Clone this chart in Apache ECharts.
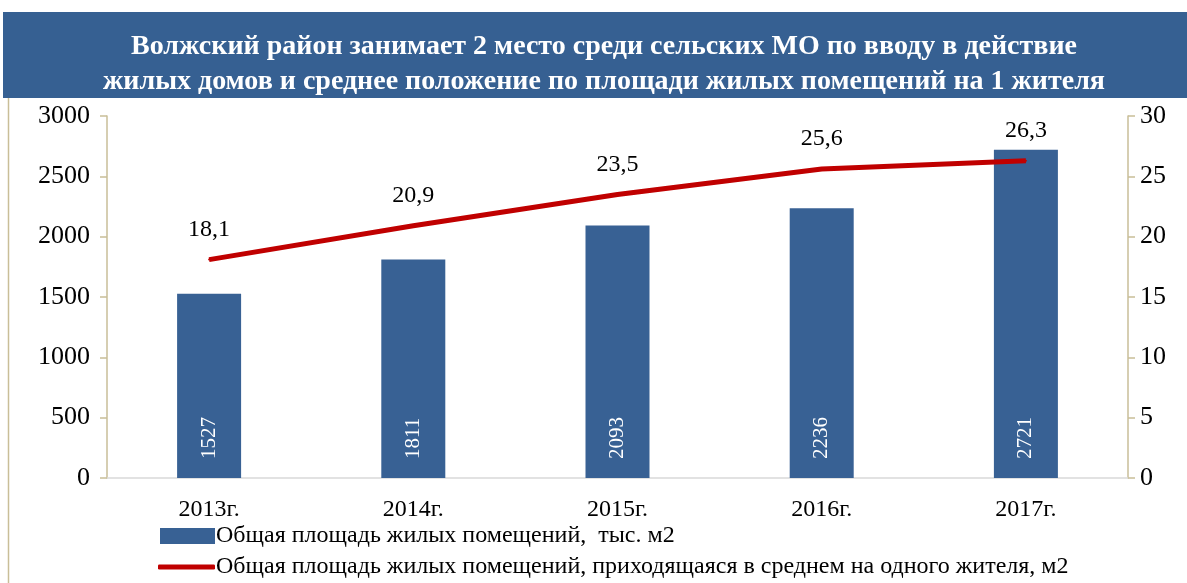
<!DOCTYPE html>
<html><head><meta charset="utf-8">
<script src="https://cdn.jsdelivr.net/npm/echarts@6/dist/echarts.min.js"></script>
<style>html,body{margin:0;padding:0;background:#fff}#c{width:1187px;height:583px}</style>
</head><body><div id="c"></div>
<script>
const categories = ['2013г.', '2014г.', '2015г.', '2016г.', '2017г.'];
const areaTotal = [1527, 1811, 2093, 2236, 2721];
const areaPerCapita = [18.1, 20.9, 23.5, 25.6, 26.3];
const titleLines = ['Волжский район занимает 2 место среди сельских МО по вводу в действие',
  'жилых домов и среднее положение по площади жилых помещений на 1 жителя'];
const seriesNames = ['Общая площадь жилых помещений,  тыс. м2',
  'Общая площадь жилых помещений, приходящаяся в среднем на одного жителя, м2'];

const FONT = '"Liberation Serif", "DejaVu Serif", serif';
const chart = echarts.init(document.getElementById('c'));
chart.setOption({
  animation: false,
  backgroundColor: '#fff',
  graphic: [
    { type: 'rect', left: 3, top: 12, shape: { width: 1184, height: 86 }, style: { fill: '#366092' }, z: 0 },
    { type: 'line', shape: { x1: 8.5, y1: 98, x2: 8.5, y2: 583 }, style: { stroke: '#C9BE98', lineWidth: 1.5 } }
  ],
  title: {
    text: titleLines.join('\n'),
    left: 604, top: 29, padding: 0, textAlign: 'center',
    textStyle: { color: '#fff', fontFamily: FONT, fontWeight: 'bold', fontSize: 28, lineHeight: 35 },
    z: 10
  },
  grid: { left: 107, right: 59, top: 116, bottom: 105, containLabel: false },
  legend: [
    { data: [{ name: seriesNames[0], icon: 'rect' }], left: 155, top: 519, itemWidth: 55, itemHeight: 16, itemGap: 0,
      textStyle: { fontFamily: FONT, fontSize: 24, color: '#000', padding: [0, 0, 0, -4] } },
    { data: [{ name: seriesNames[1], icon: 'roundRect' }], left: 153, top: 550, itemWidth: 57, itemHeight: 5, itemGap: 0,
      itemStyle: { color: '#C00000', opacity: 1, borderRadius: 3 },
      textStyle: { fontFamily: FONT, fontSize: 24, color: '#000', padding: [0, 0, 0, -4] } }
  ],
  xAxis: {
    type: 'category', data: categories,
    axisLine: { lineStyle: { color: '#D9D9D9', width: 1.5 } },
    axisTick: { show: false },
    axisLabel: { color: '#000', fontFamily: FONT, fontSize: 24, margin: 20 }
  },
  yAxis: [
    { type: 'value', min: 0, max: 3000, interval: 500,
      axisLine: { show: true, lineStyle: { color: '#C9BE98', width: 1.5 } },
      axisTick: { show: true, length: 7, lineStyle: { color: '#C9BE98', width: 1.5 } },
      splitLine: { show: false },
      axisLabel: { color: '#000', fontFamily: FONT, fontSize: 26, margin: 17, formatter: v => String(v) } },
    { type: 'value', min: 0, max: 30, interval: 5, position: 'right',
      axisLine: { show: true, lineStyle: { color: '#C9BE98', width: 1.5 } },
      axisTick: { show: true, length: 7, lineStyle: { color: '#C9BE98', width: 1.5 } },
      splitLine: { show: false },
      axisLabel: { color: '#000', fontFamily: FONT, fontSize: 26, margin: 12, formatter: v => String(v) } }
  ],
  series: [
    { name: seriesNames[0], type: 'bar', data: areaTotal, barWidth: 64, yAxisIndex: 0,
      itemStyle: { color: '#386194' },
      label: { show: true, position: 'insideBottom', rotate: 90, align: 'left', verticalAlign: 'middle', distance: 19,
        color: '#fff', fontFamily: FONT, fontSize: 21 } },
    { name: seriesNames[1], type: 'line', data: areaPerCapita, yAxisIndex: 1,
      symbol: 'circle', symbolSize: 2, showSymbol: true,
      lineStyle: { color: '#C00000', width: 5 }, itemStyle: { color: '#C00000' },
      label: { show: true, position: 'top', distance: 17, color: '#000', fontFamily: FONT, fontSize: 24,
        formatter: p => String(p.value).replace('.', ',') } }
  ]
});
</script></body></html>
